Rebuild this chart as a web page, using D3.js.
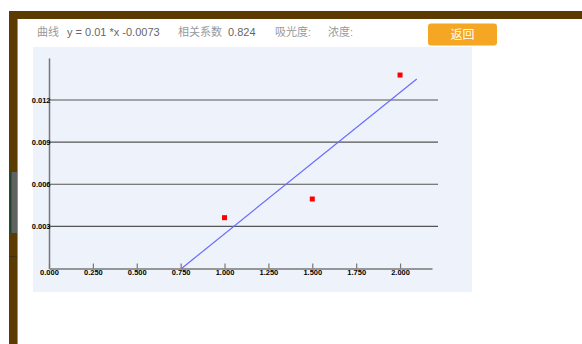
<!DOCTYPE html>
<html>
<head>
<meta charset="utf-8">
<script src="https://d3js.org/d3.v7.min.js"></script>
<style>
    body { margin: 0; background: #fff; }
    svg { display: block; }
    .tick text { font-family: "Liberation Sans", Arial, sans-serif; font-weight: bold; font-size: 7.5px; fill: #000; }
</style>
</head>
<body>
<div id="chart"></div>
<script>
    // measured points (x = concentration, y = absorbance)
    var pointX = [1.0, 1.5, 2.0];
    var pointY = [0.00362, 0.00495, 0.01378];
    // fitted line end points
    var lineX = [0.755, 2.095];
    var lineY = [0, 0.0135];
    var xTicks = [0, 0.25, 0.5, 0.75, 1.0, 1.25, 1.5, 1.75, 2.0];
    var yTicks = [0.003, 0.006, 0.009, 0.012];
    var headerTexts = [
        { t: "曲线", x: 37, c: "#999" },
        { t: "y = 0.01 *x -0.0073", x: 67, c: "#666" },
        { t: "相关系数", x: 178, c: "#999" },
        { t: "0.824", x: 228, c: "#666" },
        { t: "吸光度:", x: 275, c: "#999" },
        { t: "浓度:", x: 328, c: "#999" }
    ];

    var W = 582, H = 344;
    var svg = d3.select("#chart").append("svg")
        .attr("width", W).attr("height", H);

    // brown frame
    svg.append("rect").attr("x", 9).attr("y", 11).attr("width", W - 9).attr("height", 8).attr("fill", "#5b3b02");
    svg.append("rect").attr("x", 9).attr("y", 11).attr("width", 9).attr("height", H - 11).attr("fill", "#5b3b02");
    svg.append("rect").attr("x", 10).attr("y", 172).attr("width", 7).attr("height", 61).attr("fill", "#5f6360");
    svg.append("rect").attr("x", 10).attr("y", 172).attr("width", 1.5).attr("height", 61).attr("fill", "#23452f");
    svg.append("line").attr("x1", 9).attr("x2", 18).attr("y1", 256.5).attr("y2", 256.5).attr("stroke", "#46300a");
    svg.append("line").attr("x1", 17.5).attr("x2", 17.5).attr("y1", 19).attr("y2", H).attr("stroke", "#a88f66").attr("stroke-width", 1);

    // header
    svg.selectAll(".hdr").data(headerTexts).enter().append("text")
        .attr("class", "hdr")
        .attr("x", d => d.x).attr("y", 36)
        .attr("fill", d => d.c)
        .style("font-family", "'Liberation Sans', 'Noto Sans CJK SC', sans-serif")
        .style("font-size", "11px")
        .text(d => d.t);

    svg.append("rect").attr("x", 428).attr("y", 23.5).attr("width", 69).attr("height", 22)
        .attr("rx", 3).attr("fill", "#f5a623");
    svg.append("text").attr("x", 462.5).attr("y", 38.5).attr("text-anchor", "middle")
        .attr("fill", "#fff").style("font-family", "'Noto Sans CJK SC', sans-serif")
        .style("font-size", "12px").text("返回");

    // plot panel
    svg.append("rect").attr("x", 33).attr("y", 47).attr("width", 439).attr("height", 245).attr("fill", "#eef3fb");

    var x = d3.scaleLinear().domain([0, 2.182]).range([49, 432]);
    var y = d3.scaleLinear().domain([0, 0.015]).range([268.5, 57.9]);

    // grid lines
    svg.selectAll(".grid").data(yTicks).enter().append("line")
        .attr("x1", 49).attr("x2", 438)
        .attr("y1", d => y(d)).attr("y2", d => y(d))
        .attr("stroke", "#555").attr("stroke-width", 1.2);

    var xAxis = svg.append("g").attr("transform", "translate(0," + y(0) + ")")
        .call(d3.axisBottom(x).tickValues(xTicks).tickFormat(d3.format(".3f"))
            .tickSizeInner(-5).tickSizeOuter(0).tickPadding(1.5));
    xAxis.select(".domain").attr("stroke", "#777").attr("stroke-width", 1.5);
    xAxis.selectAll(".tick line").attr("stroke", "#777").attr("stroke-width", 1.2);

    var yAxis = svg.append("g").attr("transform", "translate(" + x(0) + ",0)")
        .call(d3.axisLeft(y).tickValues(yTicks).tickFormat(d3.format(".3f"))
            .tickSize(0).tickPadding(-1.5));
    yAxis.select(".domain").attr("stroke", "#777").attr("stroke-width", 1.5);
    yAxis.selectAll(".tick text").attr("dy", "0.32em");

    // fitted line
    var line = d3.line().x(d => x(d[0])).y(d => y(d[1]));
    svg.append("path").datum(d3.zip(lineX, lineY))
        .attr("d", line).attr("fill", "none")
        .attr("stroke", "#6a6aff").attr("stroke-width", 1.2);

    // points
    svg.selectAll(".pt").data(d3.zip(pointX, pointY)).enter().append("rect")
        .attr("x", d => x(d[0]) - 2.5).attr("y", d => y(d[1]) - 2.5)
        .attr("width", 5).attr("height", 5).attr("fill", "#ff0000");
</script>
</body>
</html>
